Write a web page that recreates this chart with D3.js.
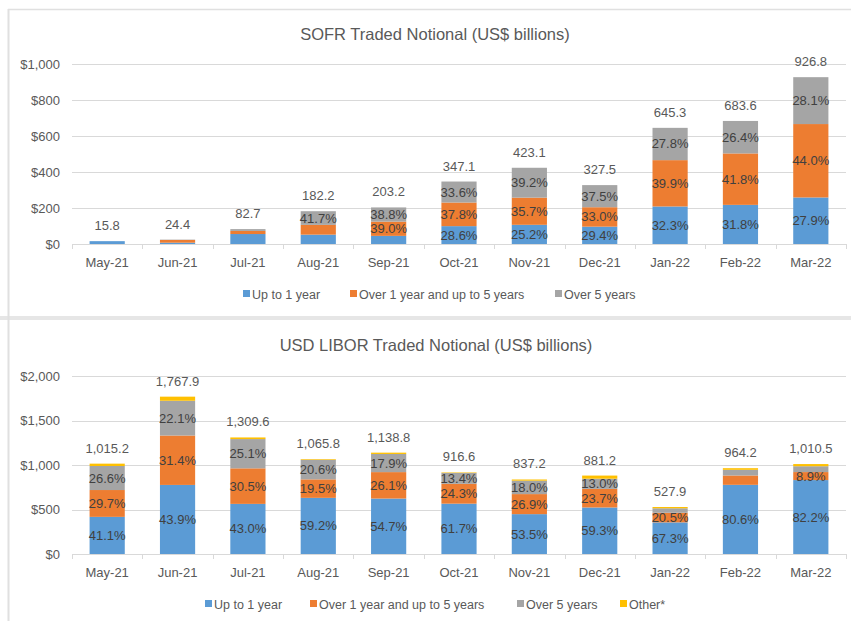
<!doctype html>
<html>
  <head>
    <meta charset="utf8">
    <script src="https://d3js.org/d3.v7.min.js"></script>
    <style type="text/css">
      body { margin: 0; background: #fff; font-family: 'Liberation Sans', Arial, sans-serif; }
    </style>
  </head>
  <body>
    <script type="text/javascript">
      const w = 851;
      const h = 621;

      const months = ['May-21', 'Jun-21', 'Jul-21', 'Aug-21', 'Sep-21', 'Oct-21',
                      'Nov-21', 'Dec-21', 'Jan-22', 'Feb-22', 'Mar-22'];

      // SOFR: totals and share of each maturity bucket (%)
      const sofrTotal = [15.8, 24.4, 82.7, 182.2, 203.2, 347.1, 423.1, 327.5, 645.3, 683.6, 926.8];
      const sofrUpTo1 = [100, 30, 67, 28.5, 22.2, 28.6, 25.2, 29.4, 32.3, 31.8, 27.9];
      const sofr1to5 = [0, 62, 21, 29.8, 39.0, 37.8, 35.7, 33.0, 39.9, 41.8, 44.0];
      const sofrOver5 = [0, 8, 12, 41.7, 38.8, 33.6, 39.2, 37.5, 27.8, 26.4, 28.1];
      const sofrTicks = [0, 200, 400, 600, 800, 1000];
      // segments whose % label is not printed
      const sofrHidden = ['May-21|0', 'May-21|1', 'May-21|2', 'Jun-21|0', 'Jun-21|1', 'Jun-21|2',
                          'Jul-21|0', 'Jul-21|1', 'Jul-21|2', 'Aug-21|0', 'Aug-21|1', 'Sep-21|0'];

      // USD LIBOR
      const liborTotal = [1015.2, 1767.9, 1309.6, 1065.8, 1138.8, 916.6, 837.2, 881.2, 527.9, 964.2, 1010.5];
      const liborUpTo1 = [41.1, 43.9, 43.0, 59.2, 54.7, 61.7, 53.5, 59.3, 67.3, 80.6, 82.2];
      const libor1to5 = [29.7, 31.4, 30.5, 19.5, 26.1, 24.3, 26.9, 23.7, 20.5, 10.9, 8.9];
      const liborOver5 = [26.6, 22.1, 25.1, 20.6, 17.9, 13.4, 18.0, 13.0, 9.5, 6.6, 6.5];
      const liborOther = [2.6, 2.6, 1.4, 0.7, 1.3, 0.6, 1.6, 4.0, 2.7, 1.9, 2.4];
      const liborTicks = [0, 500, 1000, 1500, 2000];
      const liborHidden = ['Jan-22|2', 'Feb-22|1', 'Feb-22|2', 'Mar-22|2'];

      const seriesNames = ['Up to 1 year', 'Over 1 year and up to 5 years', 'Over 5 years', 'Other*'];
      const colors = ['#5B9BD5', '#ED7D31', '#A5A5A5', '#FFC000'];

      const textColor = '#595959';
      const gridColor = '#D9D9D9';

      const svg = d3.select('body')
        .append('svg')
        .attr('width', w)
        .attr('height', h);

      // panel frames (screenshot is cropped on the right)
      svg.append('line').attr('x1', 8).attr('x2', w).attr('y1', 9.5).attr('y2', 9.5)
        .attr('stroke', '#E0E0E0').attr('stroke-width', 1.5);
      svg.append('rect').attr('x', 0).attr('y', 316).attr('width', w).attr('height', 4)
        .attr('fill', '#E6E6E6');
      svg.append('line').attr('x1', 8.5).attr('x2', 8.5).attr('y1', 9).attr('y2', h)
        .attr('stroke', '#E0E0E0').attr('stroke-width', 2);

      function drawChart(cfg) {
        const g = svg.append('g');

        const x = d3.scaleBand()
          .domain(months)
          .range([72, 846])
          .paddingInner(0.5)
          .paddingOuter(0.25);

        const y = d3.scaleLinear()
          .domain([0, d3.max(cfg.ticks)])
          .range([cfg.y0, cfg.y1]);

        // title
        g.append('text')
          .attr('x', cfg.titleX)
          .attr('y', cfg.titleY)
          .attr('text-anchor', 'middle')
          .attr('font-size', '16.5px')
          .attr('fill', textColor)
          .text(cfg.title);

        // gridlines + y labels
        g.selectAll('.grid')
          .data(cfg.ticks.slice(1))
          .enter()
          .append('line')
          .attr('x1', 72).attr('x2', 846)
          .attr('y1', (d) => Math.round(y(d)) + 0.5)
          .attr('y2', (d) => Math.round(y(d)) + 0.5)
          .attr('stroke', gridColor)
          .attr('stroke-width', 1);

        g.selectAll('.ylab')
          .data(cfg.ticks)
          .enter()
          .append('text')
          .attr('x', 60)
          .attr('y', (d) => y(d) + 4.5)
          .attr('text-anchor', 'end')
          .attr('font-size', '13px')
          .attr('fill', textColor)
          .text((d) => '$' + d3.format(',')(d));

        // stacked data
        const table = months.map((m, i) => {
          const row = { month: m, total: cfg.total[i] };
          cfg.pcts.forEach((p, k) => { row['s' + k] = cfg.total[i] * p[i] / 100; row['p' + k] = p[i]; });
          return row;
        });
        const keys = cfg.pcts.map((p, k) => 's' + k);
        const stacked = d3.stack().keys(keys)(table);

        stacked.forEach((layer, k) => {
          g.selectAll('.bar' + k)
            .data(layer)
            .enter()
            .append('rect')
            .attr('x', (d) => x(d.data.month))
            .attr('width', x.bandwidth())
            .attr('y', (d) => y(d[1]))
            .attr('height', (d) => Math.max(0, y(d[0]) - y(d[1])))
            .attr('fill', colors[k]);
        });

        // % labels
        stacked.forEach((layer, k) => {
          if (k > 2) return;
          g.selectAll('.pl' + k)
            .data(layer.filter((d) => cfg.hidden.indexOf(d.data.month + '|' + k) < 0))
            .enter()
            .append('text')
            .attr('x', (d) => x(d.data.month) + x.bandwidth() / 2)
            .attr('y', (d) => (y(d[0]) + y(d[1])) / 2 + 4.5)
            .attr('text-anchor', 'middle')
            .attr('font-size', '13px')
            .attr('fill', '#404040')
            .text((d) => d.data['p' + k].toFixed(1) + '%');
        });

        // totals
        g.selectAll('.tot')
          .data(table)
          .enter()
          .append('text')
          .attr('x', (d) => x(d.month) + x.bandwidth() / 2)
          .attr('y', (d) => y(d.total) - 11)
          .attr('text-anchor', 'middle')
          .attr('font-size', '13px')
          .attr('fill', textColor)
          .text((d) => d3.format(',.1f')(d.total));

        // x axis
        g.append('line')
          .attr('x1', 72).attr('x2', 846)
          .attr('y1', cfg.y0 + 0.5).attr('y2', cfg.y0 + 0.5)
          .attr('stroke', gridColor);
        const bounds = months.map((m) => x(m) - x.step() * 0.25).concat([846]);
        g.selectAll('.xt')
          .data(bounds)
          .enter()
          .append('line')
          .attr('x1', (d) => Math.round(d) + 0.5).attr('x2', (d) => Math.round(d) + 0.5)
          .attr('y1', cfg.y0).attr('y2', cfg.y0 + 5)
          .attr('stroke', gridColor);
        g.selectAll('.xlab')
          .data(months)
          .enter()
          .append('text')
          .attr('x', (d) => x(d) + x.bandwidth() / 2)
          .attr('y', cfg.y0 + 23)
          .attr('text-anchor', 'middle')
          .attr('font-size', '13px')
          .attr('fill', textColor)
          .text((d) => d);

        // legend
        const items = cfg.legendX.map((lx, k) => ({ x: lx, k: k }));
        const lg = g.selectAll('.leg')
          .data(items)
          .enter()
          .append('g');
        lg.append('rect')
          .attr('x', (d) => d.x)
          .attr('y', cfg.legendY - 9)
          .attr('width', 7).attr('height', 7)
          .attr('fill', (d) => colors[d.k]);
        lg.append('text')
          .attr('x', (d) => d.x + 9)
          .attr('y', cfg.legendY)
          .attr('font-size', '12.5px')
          .attr('fill', textColor)
          .text((d) => seriesNames[d.k]);
      }

      drawChart({
        title: 'SOFR Traded Notional (US$ billions)',
        titleX: 435, titleY: 40,
        total: sofrTotal,
        pcts: [sofrUpTo1, sofr1to5, sofrOver5],
        ticks: sofrTicks,
        hidden: sofrHidden,
        y0: 244, y1: 64,
        legendX: [243, 350, 555],
        legendY: 299
      });

      drawChart({
        title: 'USD LIBOR Traded Notional (US$ billions)',
        titleX: 436, titleY: 351,
        total: liborTotal,
        pcts: [liborUpTo1, libor1to5, liborOver5, liborOther],
        ticks: liborTicks,
        hidden: liborHidden,
        y0: 554, y1: 376,
        legendX: [205, 310, 517, 620],
        legendY: 609
      });
    </script>
  </body>
</html>
